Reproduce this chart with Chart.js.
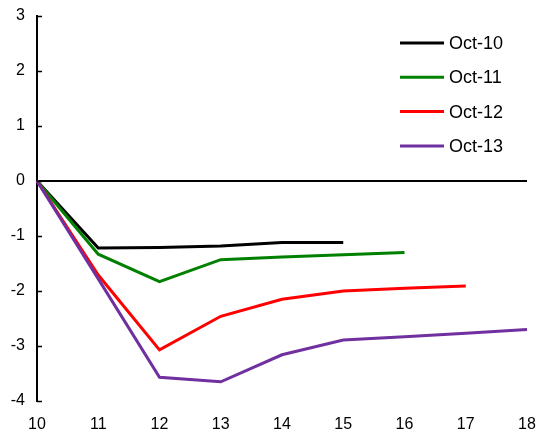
<!DOCTYPE html>
<html lang="en">
<head>
  <meta charset="UTF-8">
  <title>Oct vintages</title>
  <script src="https://cdn.jsdelivr.net/npm/chart.js"></script>
  <style>
    html, body { margin: 0; padding: 0; background: #fff; }
    #wrap { width: 539px; height: 434px; }
  </style>
</head>
<body>
  <div id="wrap"><canvas id="wykres" width="539" height="434"></canvas></div>
  <script>
    const years = ['10', '11', '12', '13', '14', '15', '16', '17', '18'];
    const oct10 = [0, -1.22, -1.21, -1.18, -1.12, -1.12];
    const oct11 = [0, -1.33, -1.83, -1.43, -1.38, -1.34, -1.30];
    const oct12 = [0, -1.71, -3.07, -2.46, -2.15, -2.00, -1.95, -1.91];
    const oct13 = [0, -1.78, -3.57, -3.65, -3.16, -2.89, -2.83, -2.77, -2.70];
    const names = ['Oct-10', 'Oct-11', 'Oct-12', 'Oct-13'];
    const colors = ['#000000', '#008000', '#ff0000', '#7030a0'];

    const FONT = '"Liberation Sans", Arial, sans-serif';

    // legend drawn by hand, top right inside the plot
    const legendPlugin = {
      id: 'legendBox',
      afterDraw(chart) {
        const ctx = chart.ctx;
        ctx.save();
        ctx.font = '18px ' + FONT;
        ctx.textBaseline = 'middle';
        chart.data.datasets.forEach((ds, i) => {
          const y = 43 + i * 34.3;
          ctx.strokeStyle = ds.borderColor;
          ctx.lineWidth = 3;
          ctx.beginPath();
          ctx.moveTo(400, y);
          ctx.lineTo(444, y);
          ctx.stroke();
          ctx.fillStyle = '#000';
          ctx.fillText(ds.label, 449, y + 1);
        });
        ctx.restore();
      }
    };

    // small tick marks on the inside of the y axis
    const innerTicks = {
      id: 'innerTicks',
      afterDraw(chart) {
        const ctx = chart.ctx, s = chart.scales.y;
        ctx.save();
        ctx.strokeStyle = '#000';
        ctx.lineWidth = 1.5;
        s.ticks.forEach(t => {
          const y = Math.round(s.getPixelForValue(t.value)) + 0.5;
          ctx.beginPath();
          ctx.moveTo(s.right, y);
          ctx.lineTo(s.right + 5, y);
          ctx.stroke();
        });
        ctx.restore();
      }
    };

    const series = [oct10, oct11, oct12, oct13];

    new Chart(document.getElementById('wykres'), {
      type: 'line',
      data: {
        labels: years,
        datasets: series.map((d, i) => ({
          label: names[i],
          data: d,
          borderColor: colors[i],
          backgroundColor: colors[i],
          borderWidth: 3,
          pointRadius: 0,
          tension: 0,
          order: series.length - i
        }))
      },
      options: {
        responsive: false,
        animation: false,
        layout: { autoPadding: false, padding: { top: 16, right: 12, left: 0, bottom: 0 } },
        plugins: { legend: { display: false }, tooltip: { enabled: false } },
        scales: {
          x: {
            offset: false,
            grid: { display: false, drawTicks: false },
            border: { display: false },
            ticks: { color: '#000', font: { size: 16, family: FONT }, padding: 14, maxRotation: 0 },
            afterFit: s => { s.height = 33; s.paddingRight = 0; s.paddingLeft = 0; }
          },
          y: {
            min: -4,
            max: 3,
            ticks: { stepSize: 1, color: '#000', font: { size: 16, family: FONT }, padding: 12 },
            grid: {
              drawTicks: false,
              color: c => (c.tick && c.tick.value === 0) ? '#000' : 'rgba(0,0,0,0)',
              lineWidth: 2
            },
            border: { display: true, color: '#000', width: 2 },
            afterFit: s => { s.width = 37; s.paddingTop = 0; s.paddingBottom = 0; }
          }
        }
      },
      plugins: [legendPlugin, innerTicks]
    });
  </script>
</body>
</html>
